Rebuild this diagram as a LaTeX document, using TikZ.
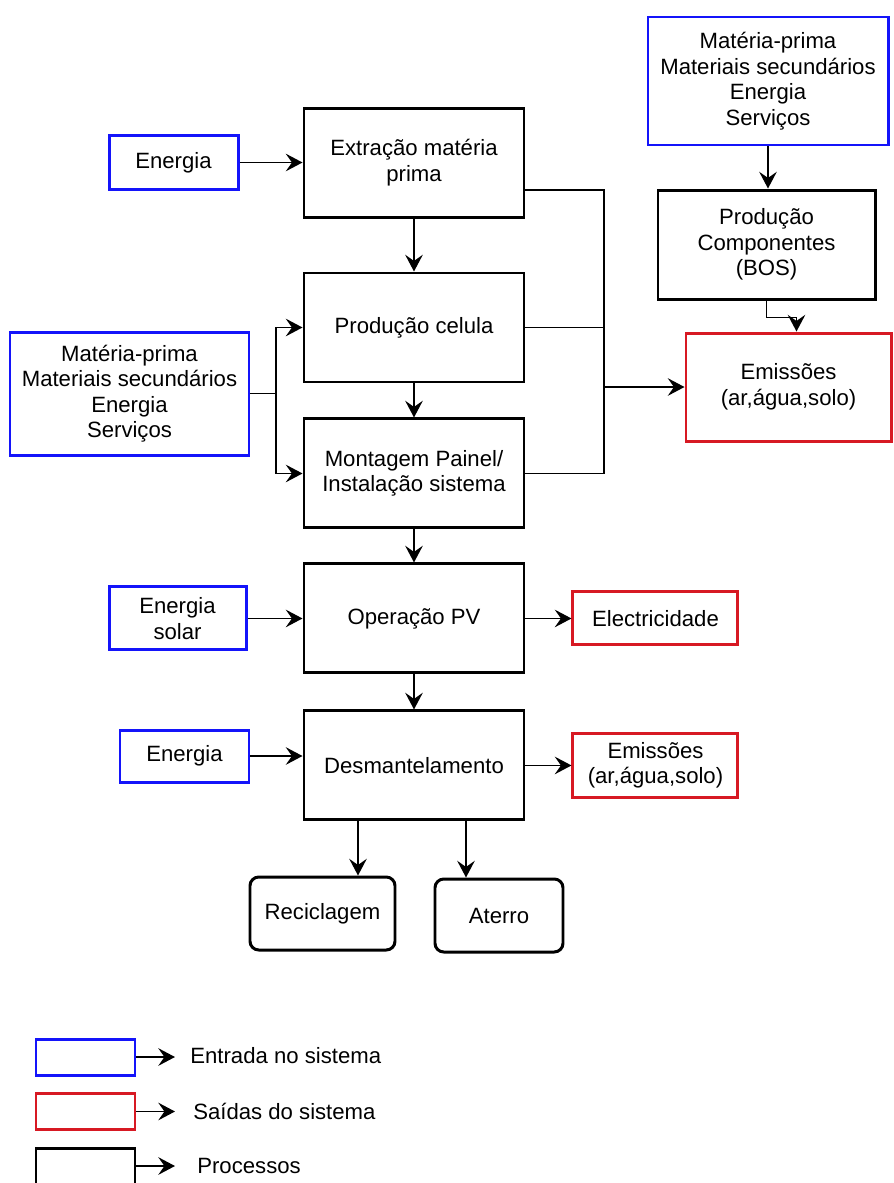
\documentclass[tikz,border=0pt]{standalone}
\usepackage{fontspec}
\setmainfont{Liberation Sans}
\usepackage{xcolor}
\usepackage{tikz}
\usetikzlibrary{arrows.meta,positioning,calc}
\definecolor{inblue}{RGB}{20, 20, 250}
\definecolor{outred}{RGB}{215, 25, 35}

\begin{document}
\begin{tikzpicture}[>={Stealth[length=9.5pt,width=10pt,inset=3.5pt]},
    font=\fontsize{12.6}{14.5}\selectfont,
    procbox/.style={draw=black, line width=1.7pt, rectangle, minimum width=4.4cm, minimum height=2.18cm, align=center},
    inbox/.style={draw=inblue, line width=1.7pt, rectangle, align=center},
    outbox/.style={draw=outred, line width=1.7pt, rectangle, align=center},
    endbox/.style={draw=black, line width=1.7pt, rounded corners=5pt, minimum height=1.46cm, align=center},
    legbox/.style={line width=1.7pt, rectangle, minimum width=1.98cm, minimum height=0.72cm},
    legtext/.style={anchor=west, inner xsep=0.3cm},
    flow/.style={->, line width=1pt},
    wire/.style={line width=1pt}]
    \useasboundingbox (0,0) rectangle (17.88,-23.66);

    % Process chain
    \node [procbox] (extr) at (8.28,-3.25) {Extração matéria\\prima};
    \node [procbox, below=1.06cm of extr] (prod) {Produção celula};
    \node [procbox, below=0.68cm of prod] (mont) {Montagem Painel/\\Instalação sistema};
    \node [procbox, below=0.66cm of mont] (oper) {Operação PV};
    \node [procbox, below=0.70cm of oper] (desm) {Desmantelamento};
    \node [endbox, minimum width=2.9cm] (recl) at (6.45,-18.27) {Reciclagem};
    \node [endbox, minimum width=2.56cm] (aterro) at (9.98,-18.31) {Aterro};

    % Inputs
    \node [inbox, minimum width=2.58cm, minimum height=1.08cm, left=1.26cm of extr] (en1) {Energia};
    \node [inbox, minimum width=4.78cm, minimum height=2.46cm] (mat) at (2.59,-7.87) {Matéria-prima\\Materiais secundários\\Energia\\Serviços};
    \node [inbox, minimum width=2.74cm, minimum height=1.26cm, left=1.1cm of oper] (solar) {Energia\\solar};
    \node [inbox, minimum width=2.58cm, minimum height=1.04cm] (en2) at (3.69,-15.12) {Energia};
    \node [inbox, minimum width=4.8cm, minimum height=2.56cm] (inp2) at (15.36,-1.62) {Matéria-prima\\Materiais secundários\\Energia\\Serviços};

    % Components and outputs
    \node [procbox, minimum width=4.34cm] (comp) at (15.33,-4.89) {Produção\\Componentes\\(BOS)};
    \node [outbox, minimum width=4.1cm, minimum height=2.16cm] (emis) at (15.77,-7.74) {Emissões\\(ar,água,solo)};
    \node [outbox, minimum width=3.3cm, minimum height=1.06cm, right=0.92cm of oper] (elec) {Electricidade};
    \node [outbox, minimum width=3.3cm, minimum height=1.28cm, right=0.92cm of desm] (emis2) {Emissões\\(ar,água,solo)};

    % Helper coordinates
    \coordinate (fan) at (5.52,0);
    \coordinate (bus) at (12.08,0);
    \coordinate (dl) at ([xshift=-1.12cm]desm.south);
    \coordinate (dr) at ([xshift=1.04cm]desm.south);

    % Main flow
    \draw [flow] (extr) -- (prod);
    \draw [flow] (prod) -- (mont);
    \draw [flow] (mont) -- (oper);
    \draw [flow] (oper) -- (desm);
    \draw [flow] (dl) -- (dl |- recl.north);
    \draw [flow] (dr) -- (dr |- aterro.north);

    % Input edges
    \draw [flow] (en1.east) -- (en1.east -| extr.west);
    \draw [flow] (mat.east) -- (mat.east -| fan) |- (prod.west);
    \draw [flow] (mat.east -| fan) |- (mont.west);
    \draw [flow] (solar.east) -- (solar.east -| oper.west);
    \draw [flow] (en2.east) -- (en2.east -| desm.west);
    \draw [flow] (inp2.south) -- (inp2.south |- comp.north);

    % Output edges
    \draw [wire] ([yshift=-0.55cm]extr.east) -| (bus |- mont.east) -- (mont.east);
    \draw [wire] (prod.east) -- (prod.east -| bus);
    \draw [flow] (bus |- emis.west) -- (emis.west);
    \draw [flow] (comp.south) -- ++(0,-0.34) -| ([xshift=0.16cm]emis.north);
    \draw [flow] (oper.east) -- (oper.east -| elec.west);
    \draw [flow] (desm.east) -- (desm.east -| emis2.west);

    % Legend
    \node [legbox, draw=inblue] (legin) at (1.71,-21.14) {};
    \node [legbox, draw=outred] (legout) at (1.71,-22.23) {};
    \node [legbox, draw=black] (legproc) at (1.71,-23.32) {};
    \node [legtext] (legintxt) at (3.5,-21.12) {Entrada no sistema};
    \node [legtext, inner xsep=0.36cm] (legouttxt) at (3.5,-22.22) {Saídas do sistema};
    \node [legtext, inner xsep=0.44cm] (legproctxt) at (3.5,-23.32) {Processos};
    \draw [flow] (legin.east) -- (legin.east -| legintxt.west);
    \draw [flow] (legout.east) -- (legout.east -| legouttxt.west);
    \draw [flow] (legproc.east) -- (legproc.east -| legproctxt.west);
\end{tikzpicture}
\end{document}
